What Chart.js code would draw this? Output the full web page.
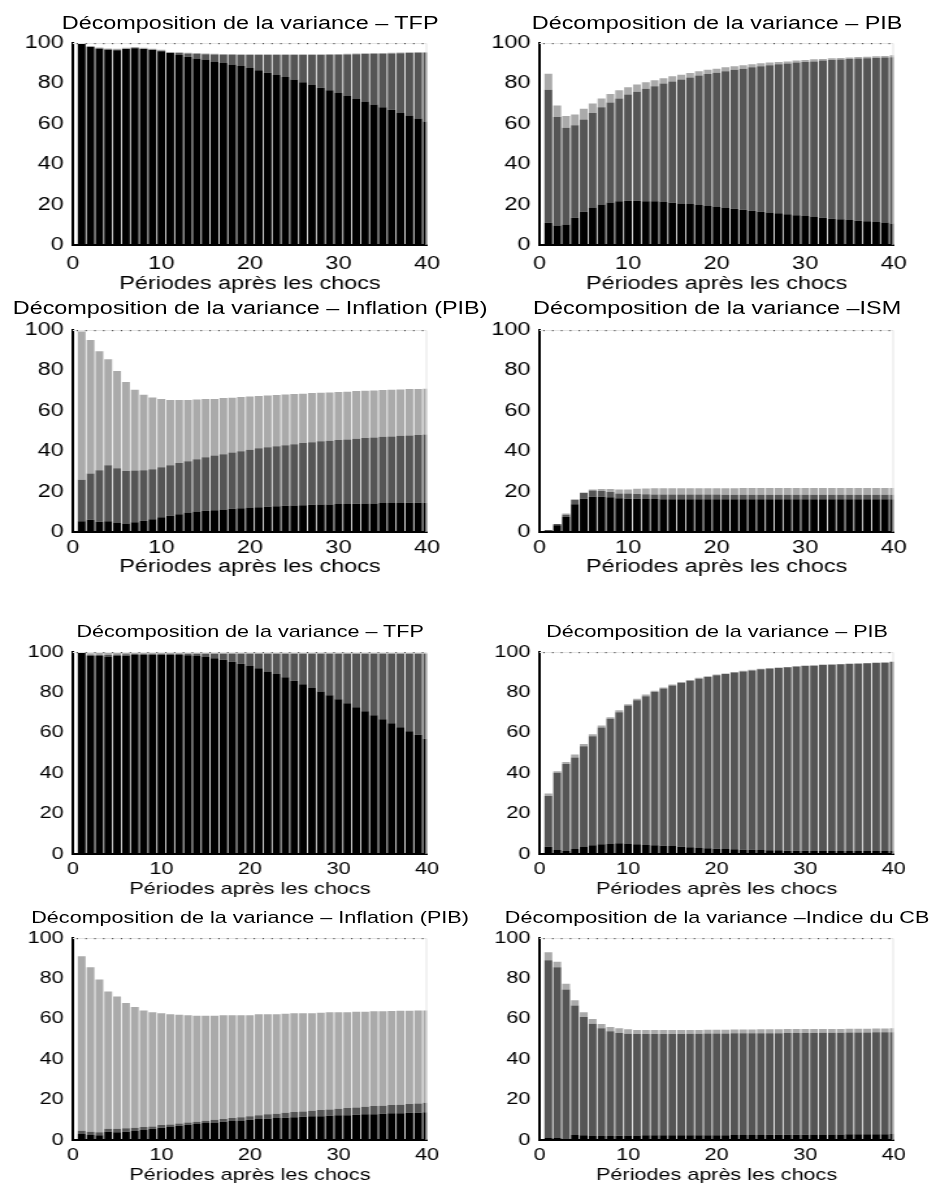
<!DOCTYPE html>
<html lang="fr">
<head>
<meta charset="utf-8">
<title>Décomposition de la variance</title>
<script src="https://cdn.jsdelivr.net/npm/chart.js@4.4.1/dist/chart.umd.min.js"></script>
<style>
  html, body { margin: 0; padding: 0; background: #fff; overflow: hidden; }
  /* la figure d'origine est étirée horizontalement : on dessine plus étroit puis on étire */
  #figure { position: absolute; left: 0; top: 0; width: 718.5px; height: 1184px; transform: scaleX(1.3); transform-origin: 0 0; }
  .panneau { position: absolute; width: 359px; height: 296px; }
  .panneau canvas { position: absolute; left: 0; top: 0; }
  .titre { position: absolute; white-space: nowrap; font-family: "Liberation Sans", Arial, sans-serif; color: #000; line-height: 1; transform: translateX(-50%); }
</style>
</head>
<body>
<div id="figure"></div>
<script>
// Périodes (abscisses des barres)
const periodes = [1,2,3,4,5,6,7,8,9,10,11,12,13,14,15,16,17,18,19,20,21,22,23,24,25,26,27,28,29,30,31,32,33,34,35,36,37,38,39,40];

// Niveaux cumulés : haut de la partie noire, gris foncé, gris clair
const tfpA_noir  = [100,98.0,97.2,96.7,96.4,97.0,97.4,97.0,96.5,95.9,95.1,94.1,93.2,92.3,91.8,90.9,90.1,89.3,88.6,87.6,86.5,85.3,84.2,83.2,81.9,80.6,79.2,77.9,76.6,75.3,73.8,72.5,71.0,69.5,68.2,66.9,65.4,64.1,62.6,61.1];
const tfpA_fonce = [100,98.1,97.4,96.9,96.7,97.2,97.6,97.2,96.8,96.2,95.2,95.0,94.8,94.6,94.4,94.3,94.2,94.1,94.0,94.0,94.0,94.0,94.0,94.0,94.0,94.0,94.0,94.0,94.1,94.2,94.3,94.4,94.5,94.6,94.7,94.8,94.9,95.0,95.1,95.2];
const tfpA_clair = [100,98.5,97.8,97.3,97.1,97.6,98.0,97.6,97.2,96.6,95.6,95.4,95.2,95.0,94.8,94.7,94.6,94.5,94.4,94.4,94.4,94.4,94.4,94.4,94.4,94.4,94.4,94.4,94.5,94.6,94.7,94.8,94.9,95.0,95.1,95.2,95.3,95.4,95.5,95.6];

const pibA_noir  = [11.0,9.7,10.2,13.5,16.5,18.6,20.1,21.1,21.6,21.9,21.9,21.7,21.6,21.3,20.9,20.6,20.3,19.8,19.3,18.8,18.3,18.0,17.5,17.0,16.5,16.1,15.7,15.2,14.7,14.3,13.8,13.5,13.0,12.7,12.4,12.0,11.7,11.4,11.2,10.7];
const pibA_fonce = [76.9,63.4,58.0,59.3,62.1,65.4,68.2,70.5,72.5,74.5,75.9,77.3,78.6,79.9,80.9,81.9,82.9,83.9,84.7,85.3,86.0,86.7,87.3,88.0,88.5,89.0,89.5,89.8,90.3,90.6,90.9,91.3,91.6,91.8,92.1,92.3,92.4,92.6,92.8,92.9];
const pibA_clair = [84.8,69.0,63.8,64.6,67.4,70.0,72.5,74.8,76.6,78.1,79.4,80.6,81.5,82.5,83.5,84.3,85.2,86.0,86.7,87.3,88.0,88.5,89.0,89.5,90.0,90.3,90.6,90.9,91.3,91.6,91.9,92.1,92.4,92.6,92.8,93.1,93.2,93.4,93.6,93.9];

const inflA_noir  = [5.3,6.1,5.1,5.3,4.5,4.2,4.8,5.6,6.3,7.3,8.0,8.8,9.6,10.1,10.5,10.8,11.1,11.5,11.8,12.1,12.3,12.5,12.8,13.0,13.1,13.3,13.5,13.6,13.6,13.8,13.8,14.0,14.1,14.1,14.3,14.3,14.3,14.5,14.5,14.5];
const inflA_fonce = [25.9,28.9,30.6,33.1,31.6,30.2,30.4,30.6,31.1,32.1,33.1,34.1,35.0,36.0,37.0,37.9,38.5,39.4,40.0,40.7,41.4,41.9,42.5,43.0,43.5,44.0,44.4,44.9,45.2,45.5,45.8,46.2,46.5,46.8,47.2,47.3,47.7,47.8,48.0,48.3];
const inflA_clair = [99.2,95.0,89.5,85.5,79.7,74.3,70.4,67.9,66.6,65.8,65.4,65.4,65.4,65.6,65.8,65.9,66.3,66.4,66.8,67.1,67.3,67.6,67.8,68.1,68.3,68.4,68.8,68.9,69.1,69.3,69.4,69.8,69.9,70.1,70.3,70.4,70.6,70.8,70.8,70.9];

const ism_noir  = [0.7,3.3,7.6,13.7,16.5,17.5,17.5,17.2,16.7,16.5,16.4,16.3,16.3,16.2,16.2,16.2,16.2,16.2,16.2,16.2,16.2,16.2,16.2,16.2,16.2,16.2,16.2,16.2,16.2,16.2,16.2,16.2,16.2,16.2,16.2,16.2,16.2,16.2,16.2,16.2];
const ism_fonce = [1.0,4.0,8.6,15.8,19.3,20.5,20.3,19.8,19.1,19.0,18.8,18.7,18.6,18.6,18.6,18.6,18.6,18.6,18.6,18.6,18.5,18.5,18.5,18.5,18.5,18.5,18.5,18.5,18.5,18.5,18.5,18.5,18.5,18.5,18.5,18.5,18.5,18.5,18.5,18.5];
const ism_clair = [1.0,4.0,9.1,16.2,19.6,21.0,21.3,21.3,21.1,21.1,21.4,21.5,21.6,21.6,21.6,21.6,21.7,21.7,21.7,21.7,21.7,21.7,21.8,21.8,21.8,21.8,21.8,21.8,21.8,21.8,21.8,21.8,21.8,21.8,21.8,21.8,21.8,21.8,21.8,21.8];

const tfpB_noir  = [100,98.2,98.0,97.5,98.0,98.2,98.5,98.7,98.7,98.7,98.7,98.5,98.4,98.0,97.5,96.9,96.2,95.2,94.2,93.1,91.9,90.4,89.1,87.5,85.8,84.0,82.2,80.4,78.6,76.6,74.6,72.7,70.7,68.7,66.7,64.7,62.8,60.8,59.0,57.0];
const tfpB_fonce = [100,98.6,98.7,98.7,98.8,98.9,99.0,99.0,99.0,99.0,99.0,99.0,99.0,99.0,99.0,99.0,99.0,99.0,99.0,99.0,99.0,99.0,99.0,99.0,99.0,99.0,99.0,99.0,99.0,99.0,99.0,99.0,99.0,99.0,99.0,99.0,99.0,99.0,99.0,99.0];
const tfpB_clair = [100,99.4,99.5,99.5,99.5,99.5,99.5,99.5,99.5,99.5,99.5,99.5,99.5,99.5,99.5,99.5,99.5,99.5,99.5,99.5,99.5,99.5,99.5,99.5,99.5,99.5,99.5,99.5,99.5,99.5,99.5,99.5,99.5,99.5,99.5,99.5,99.5,99.5,99.5,99.5];

const pibB_noir  = [3.6,2.0,1.5,2.5,3.5,4.3,4.8,4.9,5.3,4.9,4.8,4.4,4.3,4.1,4.0,3.6,3.3,3.0,2.8,2.6,2.5,2.3,2.1,2.1,2.0,1.8,1.8,1.6,1.6,1.6,1.5,1.5,1.5,1.5,1.5,1.5,1.5,1.5,1.5,1.5];
const pibB_fonce = [28.7,40.2,44.5,47.8,53.4,58.3,62.6,66.9,70.2,73.5,76.1,78.1,80.2,81.9,83.4,84.7,85.8,86.8,87.6,88.5,89.1,89.8,90.4,90.9,91.4,91.8,92.1,92.4,92.8,93.1,93.2,93.6,93.7,93.9,94.1,94.2,94.4,94.6,94.7,95.1];
const pibB_clair = [30.0,41.0,45.5,49.3,54.4,59.3,63.6,67.7,71.2,74.1,76.8,78.9,80.8,82.4,83.9,85.2,86.2,87.2,88.0,88.8,89.4,90.1,90.7,91.2,91.7,92.0,92.3,92.6,93.0,93.3,93.4,93.8,93.9,94.1,94.3,94.4,94.6,94.8,94.9,95.3];

const inflB_noir  = [3.0,2.5,2.3,4.1,3.8,4.1,4.4,4.9,5.6,6.1,6.4,7.1,7.6,7.9,8.4,8.7,9.0,9.4,9.7,10.0,10.4,10.5,10.9,11.0,11.3,11.5,11.7,11.8,12.0,12.2,12.3,12.5,12.7,12.8,13.0,13.2,13.3,13.5,13.5,13.7];
const inflB_fonce = [4.6,4.1,3.8,5.6,5.6,5.8,6.1,6.4,6.7,7.4,7.7,8.2,8.7,9.0,9.5,10.0,10.4,10.9,11.3,11.8,12.2,12.7,13.0,13.5,13.8,14.1,14.5,14.8,15.1,15.5,15.8,16.1,16.4,16.8,16.9,17.3,17.4,17.8,18.1,18.4];
const inflB_clair = [91.0,85.5,79.4,73.5,71.1,67.8,65.8,64.1,63.2,62.7,62.3,62.0,61.7,61.5,61.5,61.5,61.7,61.7,61.8,61.8,62.2,62.2,62.3,62.5,62.7,62.7,62.8,63.0,63.2,63.2,63.3,63.5,63.5,63.7,63.7,63.8,64.0,64.0,64.1,64.1];

const cb_noir  = [1.0,1.0,0.8,2.5,2.3,2.0,2.0,2.0,2.1,2.2,2.2,2.3,2.3,2.3,2.3,2.3,2.4,2.4,2.4,2.4,2.4,2.5,2.5,2.5,2.5,2.6,2.6,2.6,2.6,2.6,2.7,2.7,2.7,2.7,2.8,2.8,2.8,2.8,2.9,3.0];
const cb_fonce = [89.0,85.5,74.5,66.6,60.9,57.6,55.3,53.8,53.0,52.6,52.5,52.5,52.5,52.5,52.5,52.5,52.6,52.6,52.7,52.7,52.7,52.8,52.8,52.8,52.9,52.9,52.9,53.0,53.0,53.0,53.0,53.1,53.1,53.1,53.2,53.2,53.2,53.3,53.3,53.3];
const cb_clair = [92.9,88.3,77.3,69.2,63.2,59.9,57.4,55.9,55.3,54.8,54.4,54.4,54.4,54.4,54.4,54.4,54.5,54.5,54.6,54.6,54.6,54.7,54.7,54.7,54.8,54.8,54.8,54.9,54.9,54.9,55.0,55.0,55.0,55.0,55.1,55.1,55.1,55.2,55.2,55.3];

// Graduations
const ticksX = [0, 10, 20, 30, 40];
const ticksY = [0, 20, 40, 60, 80, 100];
const libelleX = 'Périodes après les chocs';

const ETIRE = 1.3;          // étirement horizontal de la figure
const POLICE = '"Liberation Sans", Arial, sans-serif';

// Cadre léger en haut / à droite avec les petits points du haut
const cadre = {
    id: 'cadre',
    afterDatasetsDraw(chart) {
        const { ctx, chartArea: a, scales: { x } } = chart;
        ctx.save();
        ctx.strokeStyle = '#e4e4e4';
        ctx.lineWidth = 1;
        ctx.beginPath();
        ctx.moveTo(a.left, a.top + 0.5);
        ctx.lineTo(a.right - 0.5, a.top + 0.5);
        ctx.lineTo(a.right - 0.5, a.bottom);
        ctx.stroke();
        ctx.fillStyle = '#444';
        for (let k = 0; k < periodes.length; k++) {
            const px = x.getPixelForValue(periodes[k] - 0.5);
            ctx.fillRect(px - 0.5, a.top, 1, 1.2);
        }
        ctx.restore();
    }
};

function creerGraphique(p) {
    const haut = p.zone - 43; // la zone de tracé commence à 43 px dans le canvas
    const div = document.createElement('div');
    div.className = 'panneau';
    div.style.left = (p.col * 467 / ETIRE) + 'px';
    div.style.top = haut + 'px';

    const canvas = document.createElement('canvas');
    canvas.width = 359;
    canvas.height = 296;
    div.appendChild(canvas);

    const titre = document.createElement('div');
    titre.className = 'titre';
    titre.textContent = p.titre;
    titre.style.fontSize = p.taille + 'px';
    titre.style.left = '192.4px';
    titre.style.top = (43 - p.ecartTitre - 0.8465 * p.taille) + 'px';
    div.appendChild(titre);
    document.getElementById('figure').appendChild(div);

    // barres flottantes : [bas, haut] pour chaque couche
    const couche = (bas, hautCouche) => periodes.map((x, i) => ({ x: x, y: [bas ? bas[i] : 0, hautCouche[i]] }));
    const lh = 1.2 * p.taille;

    new Chart(canvas.getContext('2d'), {
        type: 'bar',
        data: {
            datasets: [
                { data: couche(null, p.noir), backgroundColor: '#000000' },
                { data: couche(p.noir, p.fonce), backgroundColor: '#555555' },
                { data: couche(p.fonce, p.clair), backgroundColor: '#aaaaaa' }
            ]
        },
        options: {
            responsive: false,
            animation: false,
            devicePixelRatio: 1,
            datasets: { bar: { grouped: false, barPercentage: 0.88, categoryPercentage: 1, borderWidth: 0 } },
            layout: { padding: { top: 43, right: 30.5, bottom: 0, left: 0 } },
            plugins: { legend: { display: false }, tooltip: { enabled: false }, title: { display: false } },
            scales: {
                x: {
                    type: 'linear', min: 0, max: 40, offset: false,
                    grid: { display: false, drawTicks: false },
                    border: { display: true, color: '#000', width: 2 },
                    afterBuildTicks: s => { s.ticks = ticksX.map(v => ({ value: v })); },
                    ticks: { padding: p.ecartGrad, color: '#000', maxRotation: 0, font: { family: POLICE, size: p.taille } },
                    title: { display: true, text: libelleX, color: '#000', font: { family: POLICE, size: p.taille }, padding: { top: 0, bottom: 51 - p.ecartLibelle - lh / 2 } },
                    afterFit: s => { s.height = 51; }
                },
                y: {
                    min: 0, max: 100,
                    grid: { display: false, drawTicks: false },
                    border: { display: true, color: '#000', width: 2 },
                    afterBuildTicks: s => { s.ticks = ticksY.map(v => ({ value: v })); },
                    ticks: { padding: 7, color: '#000', font: { family: POLICE, size: p.taille } },
                    afterFit: s => { s.width = 56; }
                }
            }
        },
        plugins: [cadre]
    });
}

const panneaux = [
    { titre: 'Décomposition de la variance – TFP', noir: tfpA_noir, fonce: tfpA_fonce, clair: tfpA_clair, col: 0, zone: 43, ecartTitre: 14, ecartGrad: 8, ecartLibelle: 39, taille: 18 },
    { titre: 'Décomposition de la variance – PIB', noir: pibA_noir, fonce: pibA_fonce, clair: pibA_clair, col: 1, zone: 43, ecartTitre: 14, ecartGrad: 8, ecartLibelle: 39, taille: 18 },
    { titre: 'Décomposition de la variance – Inflation (PIB)', noir: inflA_noir, fonce: inflA_fonce, clair: inflA_clair, col: 0, zone: 330, ecartTitre: 16, ecartGrad: 5, ecartLibelle: 35, taille: 18 },
    { titre: 'Décomposition de la variance –ISM', noir: ism_noir, fonce: ism_fonce, clair: ism_clair, col: 1, zone: 330, ecartTitre: 16, ecartGrad: 5, ecartLibelle: 35, taille: 18 },
    { titre: 'Décomposition de la variance – TFP', noir: tfpB_noir, fonce: tfpB_fonce, clair: tfpB_clair, col: 0, zone: 652, ecartTitre: 14, ecartGrad: 5, ecartLibelle: 35, taille: 16.6 },
    { titre: 'Décomposition de la variance – PIB', noir: pibB_noir, fonce: pibB_fonce, clair: pibB_clair, col: 1, zone: 652, ecartTitre: 14, ecartGrad: 5, ecartLibelle: 35, taille: 16.6 },
    { titre: 'Décomposition de la variance – Inflation (PIB)', noir: inflB_noir, fonce: inflB_fonce, clair: inflB_clair, col: 0, zone: 938, ecartTitre: 14, ecartGrad: 5, ecartLibelle: 35, taille: 16.6 },
    { titre: 'Décomposition de la variance –Indice du CB', noir: cb_noir, fonce: cb_fonce, clair: cb_clair, col: 1, zone: 938, ecartTitre: 14, ecartGrad: 5, ecartLibelle: 35, taille: 16.6 }
];

panneaux.forEach(creerGraphique);
</script>
</body>
</html>
